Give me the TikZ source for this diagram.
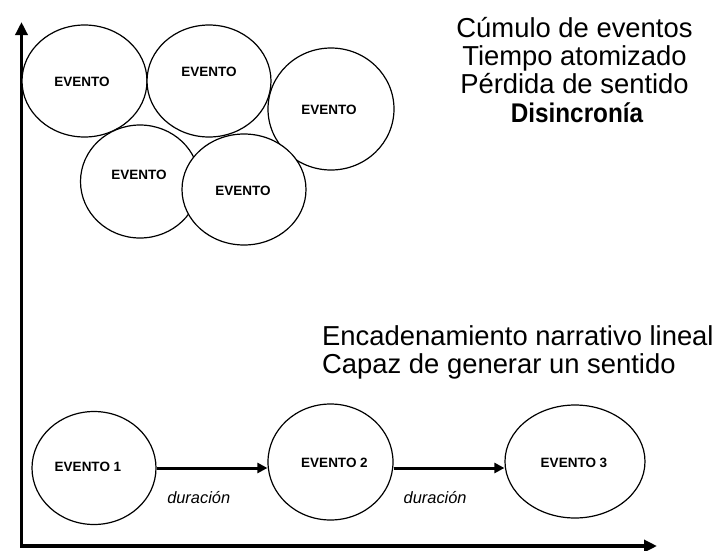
\documentclass[tikz,border=0pt]{standalone}
\usepackage{fontspec}
\usepackage{graphicx}
\setmainfont{Liberation Sans}
\usetikzlibrary{shapes.geometric,arrows.meta}
\begin{document}
\begin{tikzpicture}[x=1pt,y=-1pt,
  ev/.style={ellipse,draw,fill=white,line width=1.2pt,inner sep=0pt},
  evtext/.style={font=\fontsize{13.5}{14}\selectfont\bfseries,inner sep=0pt},
  axis/.style={line width=3.5pt,{Triangle[length=13pt,width=12pt]}-{Triangle[length=13pt,width=12pt]}},
  flow/.style={line width=3pt,-{Triangle[length=10pt,width=10pt]}},
  big/.style={font=\fontsize{27.4}{28}\selectfont,anchor=base,inner sep=0pt},
  bigb/.style={font=\fontsize{27}{28}\selectfont\bfseries,anchor=base,inner sep=0pt},
  dur/.style={font=\fontsize{16.4}{17}\selectfont\itshape,anchor=base,inner sep=0pt}
]
\useasboundingbox (0,0) rectangle (716,550);

% axes
\coordinate (ytip) at (21.5,22);
\coordinate (xtip) at (657,546);
\draw[axis] (ytip) |- (xtip);

% cluster of events
\node[ev,minimum width=125pt,minimum height=112pt,
  label={[evtext,xshift=-2.5pt,yshift=-1pt]center:EVENTO}] (e1) at (84.5,81) {};
\node[ev,minimum width=124pt,minimum height=112pt,
  label={[evtext,yshift=9pt]center:EVENTO}] (e2) at (209,81) {};
\node[ev,minimum width=126pt,minimum height=122pt,
  label={[evtext,xshift=-2pt,yshift=-1pt]center:EVENTO}] (e3) at (331,109) {};
\node[ev,minimum width=119pt,minimum height=113pt,
  label={[evtext,xshift=-1pt,yshift=6.5pt]center:EVENTO}] (e4) at (140,181.5) {};
\node[ev,minimum width=124pt,minimum height=111pt,
  label={[evtext,xshift=-1pt,yshift=-1.5pt]center:EVENTO}] (e5) at (244,189.5) {};

% right-hand texts
\node[big] (t1) at (574.5,37) {Cúmulo de eventos};
\node[big] (t2) at (574.5,65) {Tiempo atomizado};
\node[big] (t3) at (574.5,93) {Pérdida de sentido};
\node[bigb] (t4) at (577,122) {\scalebox{0.9}[1]{Disincronía}};

\node[big,anchor=base west] (l1) at (322,345) {Encadenamiento narrativo lineal};
\node[big,anchor=base west] (l2) at (322,373) {Capaz de generar un sentido};

% linear chain
\node[ev,minimum width=124pt,minimum height=113pt,
  label={[evtext,xshift=-6pt,yshift=1pt]center:EVENTO 1}] (b1) at (94,468) {};
\node[ev,minimum width=125pt,minimum height=116pt,
  label={[evtext,xshift=4pt,yshift=-1pt]center:EVENTO 2}] (b2) at (330.5,462) {};
\node[ev,minimum width=140pt,minimum height=113pt,
  label={[evtext,xshift=-1pt,yshift=-1.5pt]center:EVENTO 3}] (b3) at (575,461.5) {};

\draw[flow] (b1.east) -- (b1.east -| b2.west)
  node[dur,pos=0.38,yshift=-35pt] (d1) {duración};
\draw[flow] (b2.east |- b1.east) -- (b1.east -| b3.west)
  node[dur,pos=0.375,yshift=-35pt] (d2) {duración};
\end{tikzpicture}
\end{document}
